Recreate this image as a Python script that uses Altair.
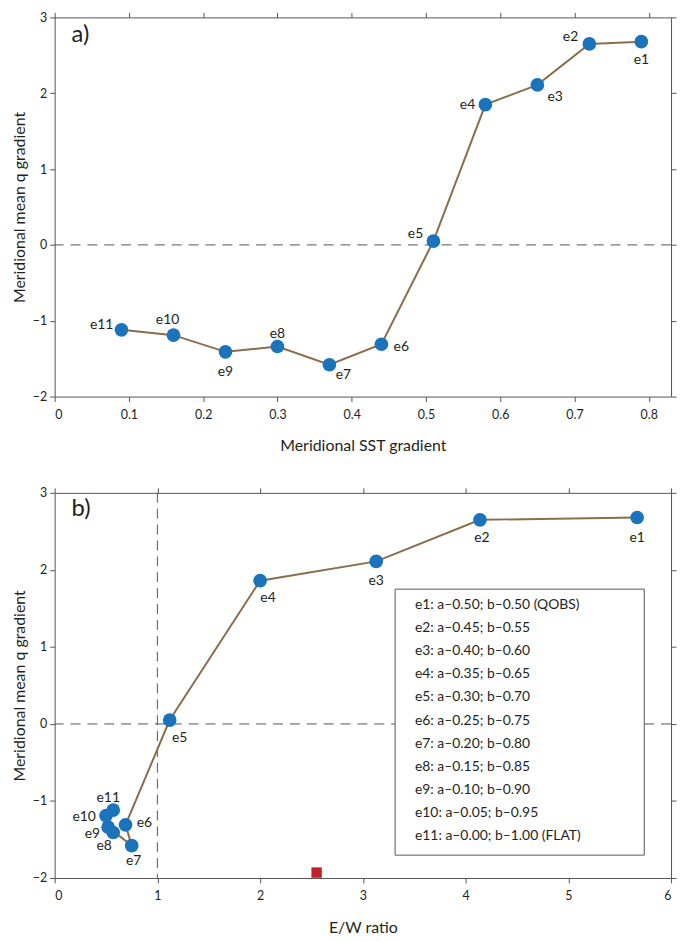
import altair as alt
import pandas as pd

# ---- data ----
labels = ["e1", "e2", "e3", "e4", "e5", "e6", "e7", "e8", "e9", "e10", "e11"]
sst_grad = [0.79, 0.72, 0.65, 0.58, 0.51, 0.44, 0.37, 0.30, 0.23, 0.16, 0.09]
q_grad_a = [2.68, 2.65, 2.11, 1.85, 0.05, -1.31, -1.58, -1.34, -1.41, -1.19, -1.12]
ew_ratio = [5.67, 4.14, 3.13, 2.00, 1.12, 0.69, 0.75, 0.52, 0.57, 0.50, 0.57]
q_grad_b = [2.68, 2.65, 2.11, 1.86, 0.05, -1.31, -1.58, -1.34, -1.41, -1.19, -1.12]
obs_ew = [2.55]
obs_q = [-1.93]
legend_lines = [
    "e1: a\u20130.50; b\u20130.50 (QOBS)",
    "e2: a\u20130.45; b\u20130.55",
    "e3: a\u20130.40; b\u20130.60",
    "e4: a\u20130.35; b\u20130.65",
    "e5: a\u20130.30; b\u20130.70",
    "e6: a\u20130.25; b\u20130.75",
    "e7: a\u20130.20; b\u20130.80",
    "e8: a\u20130.15; b\u20130.85",
    "e9: a\u20130.10; b\u20130.90",
    "e10: a\u20130.05; b\u20130.95",
    "e11: a\u20130.00; b\u20131.00 (FLAT)",
]
x_ticks_a = [0, 0.1, 0.2, 0.3, 0.4, 0.5, 0.6, 0.7, 0.8]
x_ticks_b = [0, 1, 2, 3, 4, 5, 6]
y_ticks = [-2, -1, 0, 1, 2, 3]

# label offsets (styling)
offs_a = {"e1": (0, 18), "e2": (-19, -7), "e3": (18, 12), "e4": (-18, 0),
          "e5": (-18, -7), "e6": (20, 3), "e7": (14, 10), "e8": (0, -13),
          "e9": (0, 20), "e10": (-6, -15), "e11": (-20, -5)}
offs_b = {"e1": (0, 21), "e2": (2, 18), "e3": (0, 20), "e4": (8, 17),
          "e5": (10, 18), "e6": (19, -2), "e7": (2, 16), "e8": (-4, 19),
          "e9": (-21, 2), "e10": (-22, 1), "e11": (-5, -12)}

FONT = "Lato"
TXT = "#231f20"
FRAME = "#555555"
BLUE = "#1a73bb"
BROWN = "#8a6d4b"
W = 621


def panel(xs, ys, xdom, xticks, xtitle, offs, tag, tag_y, height, extra=None, legend=False):
    df = pd.DataFrame({"x": xs, "y": ys, "label": labels, "idx": list(range(len(xs)))})
    xscale = alt.Scale(domain=xdom, nice=False, zero=False)
    yscale = alt.Scale(domain=[-2, 3], nice=False, zero=False)
    ax_common = dict(tickSize=5, tickColor=FRAME, domainColor=FRAME, domainWidth=1,
                     tickWidth=1, grid=False, labelFont=FONT, labelFontSize=12.5,
                     labelColor=TXT, titleFont=FONT, titleFontSize=16,
                     titleFontWeight="normal", titleColor=TXT)
    X = alt.X("x:Q", scale=xscale, title=xtitle,
              axis=alt.Axis(values=xticks, format="~g", labelPadding=7, titlePadding=17, **ax_common))
    Y = alt.Y("y:Q", scale=yscale, title="Meridional mean q gradient",
              axis=alt.Axis(values=y_ticks, format="~g", labelPadding=3, titlePadding=5, **ax_common))
    base = alt.Chart(df)
    layers = []
    layers.append(alt.Chart(pd.DataFrame({"y": [0]})).mark_rule(
        color=FRAME, strokeDash=[10, 7], strokeWidth=1).encode(y=Y))
    if extra is not None:
        layers.append(alt.Chart(pd.DataFrame({"x": extra})).mark_rule(
            color=FRAME, strokeDash=[10, 6], strokeWidth=1).encode(x=X))
    layers.append(base.mark_line(color=BROWN, strokeWidth=2).encode(
        x=X, y=Y, order=alt.Order("idx:Q")))
    layers.append(base.mark_circle(size=190, color=BLUE, opacity=1).encode(x=X, y=Y))
    for lab in labels:
        dx, dy = offs[lab]
        layers.append(base.transform_filter(alt.datum.label == lab).mark_text(
            font=FONT, fontSize=14, color=TXT, dx=dx, dy=dy).encode(x=X, y=Y, text="label:N"))
    if legend:
        layers.append(alt.Chart(pd.DataFrame({"x": obs_ew, "y": obs_q})).mark_square(
            size=110, color="#c0202a", opacity=1).encode(x=X, y=Y))
        one = pd.DataFrame({"a": [0]})
        layers.append(alt.Chart(one).mark_rect(fill="white", stroke=FRAME, strokeWidth=1).encode(
            x=alt.value(343), x2=alt.value(594), y=alt.value(97), y2=alt.value(365)))
        layers.append(alt.Chart(one).mark_text(
            font=FONT, fontSize=14, color=TXT, align="left", baseline="middle",
            lineHeight=23.3).encode(
            x=alt.value(363), y=alt.value(113), text=alt.value(legend_lines)))
    one = pd.DataFrame({"a": [0]})
    layers.append(alt.Chart(one).mark_text(
        font=FONT, fontSize=24, color=TXT, align="left", baseline="middle").encode(
        x=alt.value(17), y=alt.value(tag_y), text=alt.value(tag)))
    main = alt.layer(*layers)

    axn = dict(tickSize=5, tickColor=FRAME, domainColor=FRAME, domainWidth=1, tickWidth=1,
               grid=False, labels=False)
    dummy = base.mark_point(opacity=0).encode(
        x=alt.X("x:Q", scale=xscale, title=None,
                axis=alt.Axis(orient="top", values=xticks, **axn)),
        y=alt.Y("y:Q", scale=yscale, title=None,
                axis=alt.Axis(orient="right", values=y_ticks, **axn)),
    )
    return alt.layer(main, dummy).resolve_axis(x="independent", y="independent").properties(
        width=W, height=height)


pa = panel(sst_grad, q_grad_a, [0, 0.83], x_ticks_a, "Meridional SST gradient", offs_a,
           "a)", 18, 382)
pb = panel(ew_ratio, q_grad_b, [0, 6], x_ticks_b, "E/W ratio", offs_b,
           "b)", 16, 388, extra=[1], legend=True)

chart = alt.vconcat(pa, pb, spacing=33).properties(
    padding={"left": 3, "top": 0, "right": 0, "bottom": 0}).configure_view(stroke=None)

chart.save("out.html", embed_options={"renderer": "svg", "actions": False})
